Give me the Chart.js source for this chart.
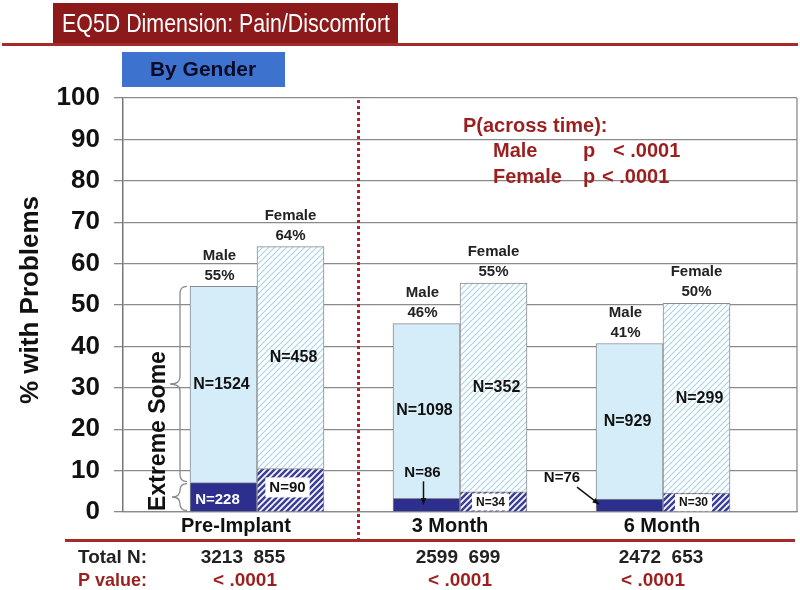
<!DOCTYPE html>
<html>
<head>
<meta charset="utf-8">
<script src="https://cdn.jsdelivr.net/npm/chart.js@4/dist/chart.umd.min.js"></script>
<style>
  body { margin: 0; background: #fff; }
  canvas { display: block; }
</style>
</head>
<body>
<canvas id="painChart" width="800" height="590"></canvas>
<script>
// data (% of patients with problems)
const categories = ['Pre-Implant', '3 Month', '6 Month'];
const maleSome = [47.4, 42.2, 37.6];
const maleExtreme = [7.1, 3.3, 3.1];
const femaleSome = [53.6, 50.4, 45.8];
const femaleExtreme = [10.5, 4.9, 4.6];
const malePct = [55, 46, 41];
const femalePct = [64, 55, 50];
const maleSomeN = [1524, 1098, 929];
const maleExtremeN = [228, 86, 76];
const femaleSomeN = [458, 352, 299];
const femaleExtremeN = [90, 34, 30];
const totalMale = [3213, 2599, 2472];
const totalFemale = [855, 699, 653];
const pValues = ['< .0001', '< .0001', '< .0001'];
const yTicks = [0, 10, 20, 30, 40, 50, 60, 70, 80, 90, 100];

const FONT = 'Liberation Sans, Arial, sans-serif';
const DARK_RED = '#9c1f1f';
Chart.defaults.font.family = FONT;

const hatch = (bg, fg, lw, size) => {
    const c = document.createElement('canvas');
    c.width = c.height = size;
    const g = c.getContext('2d');
    g.fillStyle = bg;
    g.fillRect(0, 0, size, size);
    g.strokeStyle = fg;
    g.lineWidth = lw;
    g.beginPath();
    g.moveTo(-1, size + 1); g.lineTo(size + 1, -1);
    g.moveTo(-size / 2 - 1, size / 2 + 1); g.lineTo(size / 2 + 1, -size / 2 - 1);
    g.moveTo(size / 2 - 1, size * 1.5 + 1); g.lineTo(size * 1.5 + 1, size / 2 - 1);
    g.stroke();
    return g.createPattern(c, 'repeat');
};

const points = arr => arr.map((v, i) => ({x: i, y: v}));

const txt = (ctx, s, x, y, font, color, align = 'center', baseline = 'middle', maxW) => {
    ctx.font = font;
    ctx.fillStyle = color;
    ctx.textAlign = align;
    ctx.textBaseline = baseline;
    if (maxW) ctx.fillText(s, x, y, maxW); else ctx.fillText(s, x, y);
};

const arrow = (ctx, x1, y1, x2, y2) => {
    const a = Math.atan2(y2 - y1, x2 - x1);
    ctx.strokeStyle = '#111';
    ctx.fillStyle = '#111';
    ctx.lineWidth = 1.5;
    ctx.beginPath(); ctx.moveTo(x1, y1); ctx.lineTo(x2, y2); ctx.stroke();
    ctx.beginPath();
    ctx.moveTo(x2, y2);
    ctx.lineTo(x2 - 7 * Math.cos(a - 0.4), y2 - 7 * Math.sin(a - 0.4));
    ctx.lineTo(x2 - 7 * Math.cos(a + 0.4), y2 - 7 * Math.sin(a + 0.4));
    ctx.closePath(); ctx.fill();
};

const brace = (ctx, xr, yTop, yBot, depth) => {
    const xm = xr - 7, mid = (yTop + yBot) / 2, r = Math.min(7, (yBot - yTop) / 4);
    ctx.beginPath();
    ctx.moveTo(xr, yTop);
    ctx.quadraticCurveTo(xm, yTop, xm, yTop + r);
    ctx.lineTo(xm, mid - r);
    ctx.quadraticCurveTo(xm, mid, xr - depth, mid);
    ctx.quadraticCurveTo(xm, mid, xm, mid + r);
    ctx.lineTo(xm, yBot - r);
    ctx.quadraticCurveTo(xm, yBot, xr, yBot);
    ctx.stroke();
};

const slidePlugin = {
    id: 'slide',
    beforeDatasetsDraw(chart) {
        const {ctx, chartArea: ca} = chart;
        // right border of the plot box
        ctx.save();
        ctx.strokeStyle = '#8a8a8a';
        ctx.lineWidth = 1.3;
        ctx.beginPath(); ctx.moveTo(ca.right, ca.top); ctx.lineTo(ca.right, ca.bottom); ctx.stroke();
        ctx.restore();
    },
    afterDatasetsDraw(chart) {
        const {ctx, chartArea: ca} = chart;
        const xs = chart.scales.x;
        const mE = chart.getDatasetMeta(0).data, mS = chart.getDatasetMeta(1).data;
        const fE = chart.getDatasetMeta(2).data, fS = chart.getDatasetMeta(3).data;
        const bold = n => `bold ${n}px ${FONT}`;
        ctx.save();

        categories.forEach((c, i) => {
            const ms = mS[i], me = mE[i], fs = fS[i], fe = fE[i];
            // header over each bar
            txt(ctx, 'Male', ms.x - 4, ms.y - 31, bold(15), '#222');
            txt(ctx, malePct[i] + '%', ms.x - 4, ms.y - 11, bold(15), '#222');
            txt(ctx, 'Female', fs.x, fs.y - 31, bold(15), '#222');
            txt(ctx, femalePct[i] + '%', fs.x, fs.y - 11, bold(15), '#222');
            // "some" counts
            txt(ctx, 'N=' + maleSomeN[i], ms.x - 2, (ms.y + ms.base) / 2, bold(16), '#111');
            txt(ctx, 'N=' + femaleSomeN[i], fs.x + 3, (fs.y + fs.base) / 2, bold(16), '#111');
            // male extreme
            const left = me.x - me.width / 2;
            if (me.base - me.y >= 20) {
                txt(ctx, 'N=' + maleExtremeN[i], me.x - 6, (me.y + me.base) / 2 + 3, bold(15), '#fff');
            } else if (i === 1) {
                txt(ctx, 'N=' + maleExtremeN[i], me.x - 4, me.y - 25, bold(15), '#111');
                arrow(ctx, me.x - 3, me.y - 17, me.x - 3, me.y + 6);
            } else {
                txt(ctx, 'N=' + maleExtremeN[i], left - 34, me.y - 21, bold(15), '#111');
                arrow(ctx, left - 19, me.y - 12, left + 3, me.y + 5);
            }
            // female extreme (boxed)
            const fsz = fe.base - fe.y > 30 ? 15 : 12;
            ctx.font = bold(fsz);
            const w = ctx.measureText('N=' + femaleExtremeN[i]).width + 8;
            const cy = (fe.y + fe.base) / 2 - (fsz > 12 ? 2 : -1);
            ctx.fillStyle = '#fff';
            ctx.fillRect(fe.x - 3 - w / 2, cy - fsz / 2 - 3, w, fsz + 5);
            txt(ctx, 'N=' + femaleExtremeN[i], fe.x - 3, cy, bold(fsz), '#111');
        });

        // braces on the first male bar
        const ms0 = mS[0], me0 = mE[0];
        const bx = ms0.x - ms0.width / 2 - 3;
        ctx.strokeStyle = '#8a8a8a';
        ctx.lineWidth = 1.3;
        brace(ctx, bx, ms0.y, me0.y - 1, 17);
        brace(ctx, bx, me0.y + 1, me0.base - 1, 15);
        ctx.save();
        ctx.translate(165, 431);
        ctx.rotate(-Math.PI / 2);
        txt(ctx, 'Extreme Some', 0, 0, bold(23), '#111', 'center', 'alphabetic');
        ctx.restore();

        // dotted separator
        const sx = xs.getPixelForValue(0.5);
        ctx.strokeStyle = '#b0202a';
        ctx.lineWidth = 3;
        ctx.setLineDash([3, 3]);
        ctx.beginPath(); ctx.moveTo(sx, ca.top + 2); ctx.lineTo(sx, 541); ctx.stroke();
        ctx.setLineDash([]);
        ctx.restore();
    },
    afterDraw(chart) {
        const {ctx, chartArea: ca} = chart;
        const xs = chart.scales.x;
        ctx.save();
        // title banner
        ctx.fillStyle = '#8c1a1a';
        ctx.fillRect(53, 3, 345, 41);
        ctx.fillStyle = '#a52a2a';
        ctx.fillRect(2, 43, 796, 3);
        txt(ctx, 'EQ5D Dimension: Pain/Discomfort', 62, 32, `25px ${FONT}`, '#fff', 'left', 'alphabetic', 328);
        // subtitle badge
        ctx.fillStyle = '#3d72cf';
        ctx.fillRect(122, 52, 163, 35);
        txt(ctx, 'By Gender', 203, 70, `bold 21px ${FONT}`, '#0b0b25');

        // y axis title
        ctx.save();
        ctx.translate(38, 300);
        ctx.rotate(-Math.PI / 2);
        txt(ctx, '% with Problems', 0, 0, `bold 26px ${FONT}`, '#111', 'center', 'alphabetic');
        ctx.restore();

        // across-time note
        const f20 = `bold 20px ${FONT}`;
        txt(ctx, 'P(across time):', 463, 132, f20, DARK_RED, 'left', 'alphabetic');
        txt(ctx, 'Male', 493, 157, f20, DARK_RED, 'left', 'alphabetic');
        txt(ctx, 'p', 583, 157, f20, DARK_RED, 'left', 'alphabetic');
        txt(ctx, '< .0001', 613, 157, f20, DARK_RED, 'left', 'alphabetic');
        txt(ctx, 'Female', 493, 183, f20, DARK_RED, 'left', 'alphabetic');
        txt(ctx, 'p', 583, 183, f20, DARK_RED, 'left', 'alphabetic');
        txt(ctx, '< .0001', 602, 183, f20, DARK_RED, 'left', 'alphabetic');

        // category labels, footer line and table
        const labelNudge = [-21, -10, -1];
        const totalNudge = [-14, -2, -2];
        const pNudge = [-12, 0, -10];
        categories.forEach((c, i) => {
            const cx = xs.getPixelForValue(i);
            txt(ctx, c, cx + labelNudge[i], 526, `bold 20px ${FONT}`, '#111');
            txt(ctx, totalMale[i] + '  ' + totalFemale[i], cx + totalNudge[i], 558, `bold 19px ${FONT}`, '#222');
            txt(ctx, pValues[i], cx + pNudge[i], 581, `bold 19px ${FONT}`, DARK_RED);
        });
        ctx.fillStyle = '#a52a2a';
        ctx.fillRect(65, 539, 730, 3);
        txt(ctx, 'Total N:', 78, 558, `bold 19px ${FONT}`, '#222', 'left', 'middle', 69);
        txt(ctx, 'P value:', 78, 581, `bold 19px ${FONT}`, DARK_RED, 'left', 'middle', 69);
        ctx.restore();
    }
};

const renderChart = () => {
    const ctx = document.getElementById('painChart').getContext('2d');
    const border = '#8a8a8a';
    new Chart(ctx, {
        type: 'bar',
        data: {
            datasets: [
                {label: 'Male extreme', stack: 'male', data: points(maleExtreme),
                    backgroundColor: '#2c2f8e', borderColor: border, borderWidth: 1},
                {label: 'Male some', stack: 'male', data: points(maleSome),
                    backgroundColor: '#d5edf8', borderColor: border, borderWidth: 1},
                {label: 'Female extreme', stack: 'female', data: points(femaleExtreme),
                    backgroundColor: hatch('#ffffff', '#3b3f9c', 2.6, 6), borderColor: border, borderWidth: 1},
                {label: 'Female some', stack: 'female', data: points(femaleSome),
                    backgroundColor: hatch('#ffffff', '#aad4ea', 1.2, 6), borderColor: border, borderWidth: 1}
            ]
        },
        options: {
            responsive: false,
            animation: false,
            barThickness: 67,
            layout: {padding: {top: 98, left: 0, right: 3, bottom: 0}},
            plugins: {legend: {display: false}, tooltip: {enabled: false}},
            scales: {
                x: {
                    type: 'linear',
                    min: -0.66,
                    max: 2.66,
                    offset: false,
                    grid: {display: false, offset: false},
                    ticks: {display: false},
                    border: {display: true, color: border, width: 1.3},
                    afterFit: s => { s.height = 78; }
                },
                y: {
                    stacked: true,
                    min: 0,
                    max: 100,
                    afterBuildTicks: s => { s.ticks = yTicks.map(v => ({value: v})); },
                    grid: {color: border, lineWidth: 1.3, tickLength: 9},
                    border: {display: true, color: '#777', width: 1.5},
                    ticks: {padding: 14, color: '#111', font: {size: 26, weight: 'bold'}},
                    afterFit: s => { s.width = 123; }
                }
            }
        },
        plugins: [slidePlugin]
    });
};

document.addEventListener('DOMContentLoaded', renderChart);
</script>
</body>
</html>
